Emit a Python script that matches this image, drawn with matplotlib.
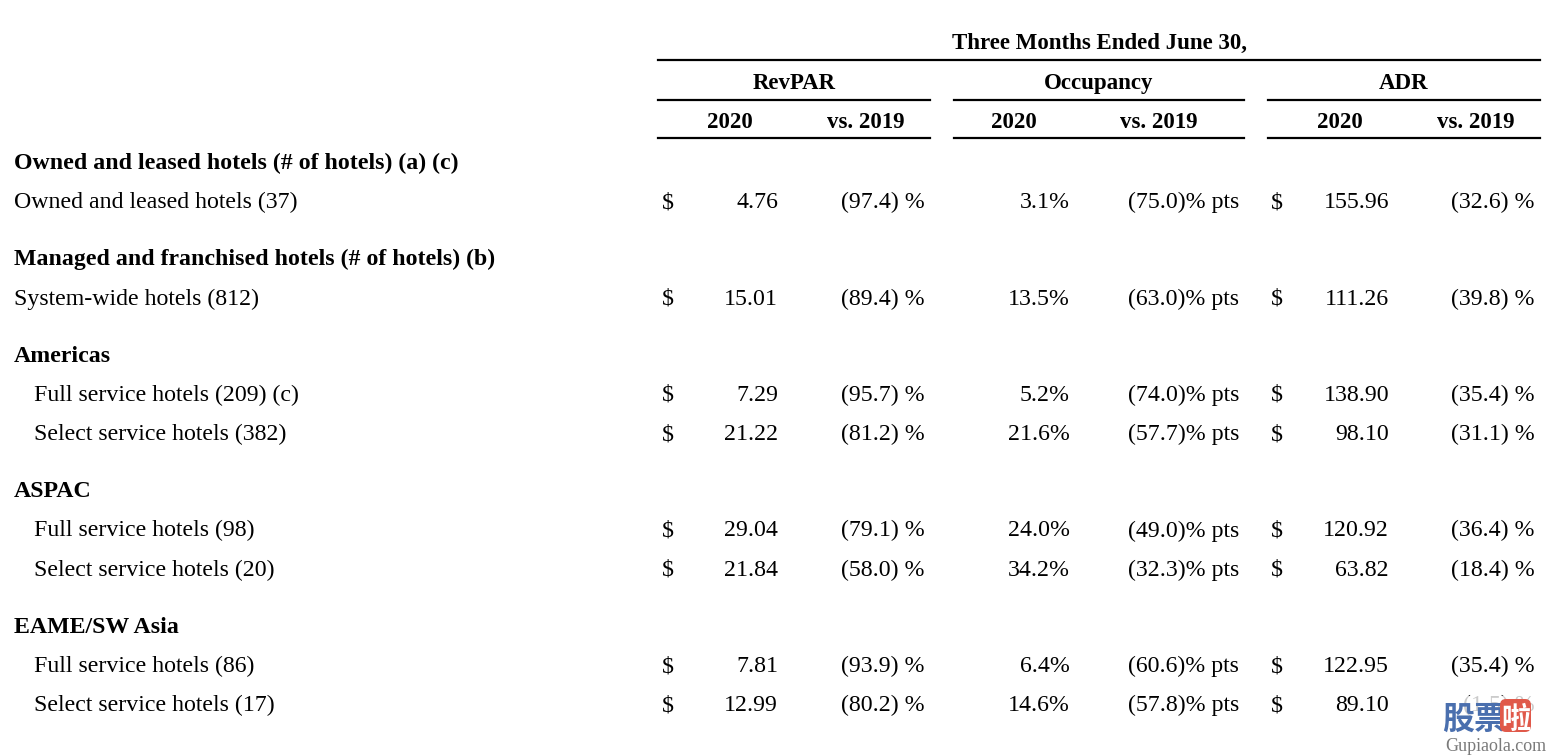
import matplotlib.pyplot as plt
from matplotlib.patches import FancyBboxPatch, Rectangle

# --- table data ---
groups = [
    ("Owned and leased hotels (# of hotels) (a) (c)", ["Owned and leased hotels (37)"]),
    ("Managed and franchised hotels (# of hotels) (b)", ["System-wide hotels (812)"]),
    ("Americas", ["Full service hotels (209) (c)", "Select service hotels (382)"]),
    ("ASPAC", ["Full service hotels (98)", "Select service hotels (20)"]),
    ("EAME/SW Asia", ["Full service hotels (86)", "Select service hotels (17)"]),
]
indented = [False, False, True, True, True]

revpar = [4.76, 15.01, 7.29, 21.22, 29.04, 21.84, 7.81, 12.99]
revpar_chg = [-97.4, -89.4, -95.7, -81.2, -79.1, -58.0, -93.9, -80.2]
occ = [3.1, 13.5, 5.2, 21.6, 24.0, 34.2, 6.4, 14.6]
occ_chg = [-75.0, -63.0, -74.0, -57.7, -49.0, -32.3, -60.6, -57.8]
adr = [155.96, 111.26, 138.90, 98.10, 120.92, 63.82, 122.95, 89.10]
adr_chg = [-32.6, -39.8, -35.4, -31.1, -36.4, -18.4, -35.4, -1.5]

metrics = ["RevPAR", "Occupancy", "ADR"]
period_title = "Three Months Ended June 30,"
sub_cols = ["2020", "vs. 2019"]


def paren(v):
    return f"({abs(v):.1f})" if v < 0 else f"{v:.1f}"


SERIF = ["Liberation Serif", "DejaVu Serif"]
FS = 17.2
HFS = 16.5
BL = 8  # baseline offset below the visual row centre (px)

fig = plt.figure(figsize=(15.58, 7.56), dpi=100)
ax = fig.add_axes([0, 0, 1, 1])
ax.set_xlim(0, 1558)
ax.set_ylim(756, 0)
ax.axis("off")


def txt(x, y, s, ha="left", bold=False, size=FS):
    ax.text(x, y + BL, s, ha=ha, va="baseline", fontsize=size,
            fontweight="bold" if bold else "normal", family=SERIF)


# column layout (pixels)
spans = [(658, 930), (954, 1244), (1268, 1540)]
sub_centers = [(730, 866), (1014, 1159), (1340, 1476)]

# header
txt(1100, 41, period_title, ha="center", bold=True, size=HFS)
ax.plot([658, 1540], [60, 60], color="black", lw=1.6)
for m, (x0, x1), (c0, c1) in zip(metrics, spans, sub_centers):
    txt((x0 + x1) / 2, 81, m, ha="center", bold=True, size=HFS)
    ax.plot([x0, x1], [100, 100], color="black", lw=1.6)
    txt(c0, 120, sub_cols[0], ha="center", bold=True, size=HFS)
    txt(c1, 120, sub_cols[1], ha="center", bold=True, size=HFS)
    ax.plot([x0, x1], [138, 138], color="black", lw=1.6)

# body
y = 161
i = 0
for gi, (head, items) in enumerate(groups):
    if gi > 0:
        y += 57
    txt(14, y, head, bold=True)
    for lab in items:
        y += 39.3
        txt(34 if indented[gi] else 14, y, lab)
        txt(662, y, "$")
        txt(778, y, f"{revpar[i]:.2f}", ha="right")
        txt(925, y, f"{paren(revpar_chg[i])} %", ha="right")
        txt(1070, y, f"{occ[i]:.1f}%", ha="right")
        txt(1239, y, f"{paren(occ_chg[i])}% pts", ha="right")
        txt(1271, y, "$")
        txt(1389, y, f"{adr[i]:.2f}", ha="right")
        txt(1535, y, f"{paren(adr_chg[i])} %", ha="right")
        i += 1

# watermark (fades the last ADR change value, as in the source image)
cjk = ["Noto Sans CJK SC", "DejaVu Sans"]
ax.add_patch(Rectangle((1436, 696), 120, 60, fc="white", ec="none",
                       alpha=0.8, zorder=5))
ax.text(1442, 729, "股票", ha="left", va="baseline", fontsize=23,
        fontweight="bold", color="#4a6fae", family=cjk, zorder=6)
ax.add_patch(FancyBboxPatch((1500, 699), 31, 33,
                            boxstyle="round,pad=0,rounding_size=6",
                            fc="#e0594a", ec="none", zorder=6))
ax.text(1515.5, 728, "啦", ha="center", va="baseline", fontsize=21,
        fontweight="bold", color="white", family=cjk, zorder=7)
ax.text(1496, 751, "Gupiaola.com", ha="center", va="baseline", fontsize=13,
        color="#7a7a7a", family=SERIF, zorder=6)

fig.savefig("out.png", dpi=100, facecolor="white")
